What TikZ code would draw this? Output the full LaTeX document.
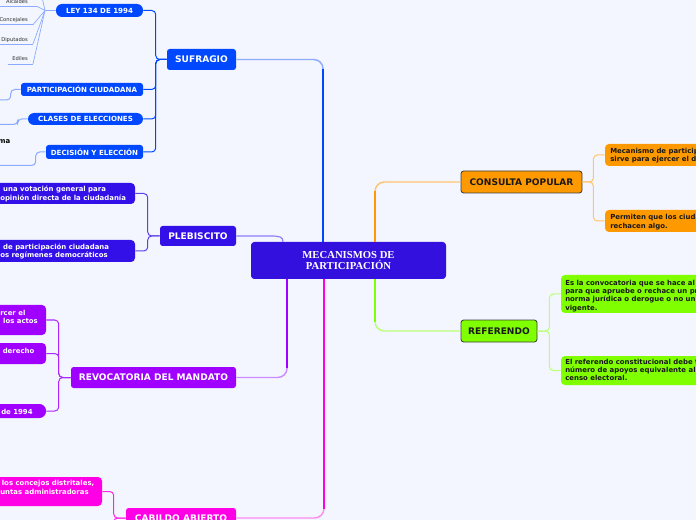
\documentclass[tikz,border=0pt]{standalone}
\usepackage{fontspec}
\setmainfont{DejaVu Sans}
\newfontfamily\ctrfont{Liberation Serif}
\usetikzlibrary{positioning}

\definecolor{bgcol}{RGB}{243,246,254}
\definecolor{ctrcol}{RGB}{51,16,221}
\definecolor{sufcol}{RGB}{0,72,255}
\definecolor{suflite}{RGB}{140,170,255}
\definecolor{plbcol}{RGB}{52,16,232}
\definecolor{plblite}{RGB}{140,125,255}
\definecolor{conscol}{RGB}{255,153,0}
\definecolor{conslite}{RGB}{255,196,110}
\definecolor{refcol}{RGB}{128,255,0}
\definecolor{reflite}{RGB}{185,255,120}
\definecolor{revcol}{RGB}{160,0,255}
\definecolor{revlite}{RGB}{205,140,255}
\definecolor{cabcol}{RGB}{255,0,230}
\definecolor{cablite}{RGB}{255,140,240}
\definecolor{inkcol}{RGB}{25,25,25}
\definecolor{leafgray}{RGB}{45,45,45}

\begin{document}
\begin{tikzpicture}[
    x=0.75pt, y=-0.75pt,
    sz/.style 2 args={minimum width=#1*0.75pt, minimum height=#2*0.75pt},
    ctrbox/.style={rectangle, rounded corners=2.5pt, fill=ctrcol, text=white, inner sep=0pt, align=center, font=\ctrfont\bfseries\fontsize{8}{7.8}\selectfont},
    mainbox/.style={rectangle, rounded corners=2pt, inner sep=0pt, text=white, font=\bfseries\fontsize{6.8}{8}\selectfont},
    darkbox/.style={draw=inkcol!85, line width=0.6pt, text=inkcol},
    subbox/.style={rectangle, rounded corners=2pt, inner sep=0pt, text=white, font=\bfseries\fontsize{5.3}{6.5}\selectfont},
    pill/.style={rounded corners=4.6pt},
    leafbox/.style={rectangle, rounded corners=3pt, inner sep=0pt},
    leaftext/.style={inner sep=0pt, align=left, font=\bfseries\fontsize{5.2}{6.25}\selectfont},
    tinytext/.style={inner sep=0pt, text=leafgray, font=\fontsize{3.9}{4.5}\selectfont},
    trunk/.style={line width=1.1pt, rounded corners=7pt},
    trunkdark/.style={line width=1.7pt, shorten >=7pt},
    twig/.style={line width=0.75pt, rounded corners=3pt},
    leafline/.style={line width=0.5pt, suflite}
]
  \useasboundingbox (0,0) rectangle (696,520);
  \fill[bgcol] (0,0) rectangle (696,520);
  \clip (0,0) rectangle (696,520);

  % central node
  \node (cm) [ctrbox, sz={195}{37}] at (348.5,260.5) {MECANISMOS DE\\PARTICIPACIÓN};

  % main branches
  \node (suf) [mainbox, fill=sufcol, sz={69}{21}] at (201.5,59.5) {SUFRAGIO};
  \node (plb) [mainbox, fill=plbcol, sz={76}{20}] at (198,236) {PLEBISCITO};
  \node (rev) [mainbox, fill=revcol, sz={165}{21}] at (153.5,377.5) {REVOCATORIA DEL MANDATO};
  \node (cab) [mainbox, fill=cabcol, sz={110}{20}] at (181,518) {CABILDO ABIERTO};
  \node (cons) [mainbox, darkbox, fill=conscol, sz={121}{22}] at (521.5,182) {CONSULTA POPULAR};
  \node (ref) [mainbox, darkbox, fill=refcol, sz={76}{22}] at (499,331) {REFERENDO};

  % sufragio
  \node (ley) [subbox, pill, fill=sufcol, sz={87}{13}] at (99.5,10.5) {LEY 134 DE 1994};
  \node (pc) [subbox, fill=sufcol, sz={122}{13}] at (82,89.5) {PARTICIPACIÓN CIUDADANA};
  \node (cle) [subbox, pill, fill=sufcol, sz={115}{12}] at (85.5,119) {CLASES DE ELECCIONES};
  \node (dye) [subbox, fill=sufcol, sz={97}{14}] at (94.5,152) {DECISIÓN Y ELECCIÓN};

  \node (alc) [tinytext, anchor=east] at (28,2) {Alcaldes};
  \node (con) [tinytext, anchor=east] at (28,20.5) {Concejales};
  \node (dip) [tinytext, anchor=east] at (28,40) {Diputados};
  \node (edi) [tinytext, anchor=east] at (28,59) {Ediles};
  \node (mafrag) [leaftext, text=black, anchor=east] at (10.5,142) {ma};

  % plebiscito
  \node (pb1) [leafbox, fill=plbcol, sz={145}{21}] at (62.5,193.5) {};
  \node (pb1t) [leaftext, text=white, anchor=west] at (0,194) {\hspace*{2.2pt}una votación general para\\opinión directa de la ciudadanía};
  \node (pb2) [leafbox, fill=plbcol, sz={145}{22}] at (62.5,251) {};
  \node (pb2t) [leaftext, text=white, anchor=west] at (0,251.3) {\hspace*{2.2pt}de participación ciudadana\\os regímenes democráticos};

  % revocatoria
  \node (rv1) [leafbox, fill=revcol, sz={56}{30}] at (18,320) {};
  \node (rv1t) [leaftext, text=white, anchor=west] at (0,316.7) {rcer el\\\hspace*{2.2pt}los actos};
  \node (rv2) [leafbox, fill=revcol, sz={56}{21}] at (18,353.5) {};
  \node (rv2t) [leaftext, text=white, anchor=west] at (2.5,350.7) {derecho};
  \node (rv3) [leafbox, rounded corners=5pt, fill=revcol, sz={56}{14}] at (18,411) {};
  \node (rv3t) [leaftext, text=white, anchor=west] at (1,411.5) {de 1994};

  % cabildo
  \node (cb1) [leafbox, fill=cabcol, sz={112}{29}] at (46,491.5) {};
  \node (cb1t) [leaftext, text=white, anchor=west] at (0,487.5) {\hspace*{1.2pt}los concejos distritales,\\untas administradoras};

  % consulta popular
  \node (cs1) [leafbox, fill=conscol, sz={105}{22}] at (657.5,155) {};
  \node (cs1t) [leaftext, text=inkcol, anchor=west] at (610,155.5) {Mecanismo de particip\\sirve para ejercer el d};
  \node (cs2) [leafbox, fill=conscol, sz={105}{22}] at (657.5,221) {};
  \node (cs2t) [leaftext, text=inkcol, anchor=west] at (610,222) {Permiten que los ciuda\\rechacen algo.};

  % referendo
  \node (rf1) [leafbox, fill=refcol, sz={149}{38}] at (635.5,294) {};
  \node (rf1t) [leaftext, text=inkcol, anchor=west] at (565,295.8) {Es la convocatoria que se hace al\\para que apruebe o rechace un pr\\norma jurídica o derogue o no un\\vigente.};
  \node (rf2) [leafbox, fill=refcol, sz={149}{29}] at (635.5,370.5) {};
  \node (rf2t) [leaftext, text=inkcol, anchor=west] at (565,370) {El referendo constitucional debe t\\número de apoyos equivalente al\\censo electoral.};

  % trunk ends on the central node
  \coordinate (sufT) at ([xshift=-19.1pt]cm.north);
  \coordinate (consT) at ([xshift=19.9pt]cm.north);
  \coordinate (plbT) at ([xshift=-49.1pt]cm.north);
  \coordinate (refT) at ([xshift=19.9pt]cm.south);
  \coordinate (revT) at ([xshift=-46.1pt]cm.south);
  \coordinate (cabT) at ([xshift=-18.4pt]cm.south);

  \draw[trunk, suflite] (sufT) |- (suf.east);
  \draw[trunkdark, sufcol] (sufT) -- (sufT |- suf.east);
  \draw[trunk, conslite] (consT) |- (cons.west);
  \draw[trunkdark, conscol] (consT) -- (consT |- cons.west);
  \draw[trunk, reflite] (refT) |- (ref.west);
  \draw[trunkdark, refcol] (refT) -- (refT |- ref.west);
  \draw[trunk, revlite] (revT) |- (rev.east);
  \draw[trunkdark, revcol] (revT) -- (revT |- rev.east);
  \draw[trunk, cablite] (cabT) |- (cab.east);
  \draw[trunkdark, cabcol] (cabT) -- (cabT |- cab.east);
  \draw[line width=0.9pt, plblite] (plb.east) -- ++(34,0) .. controls +(9,0) and +(0,-5) .. (plbT);

  % branches
  \foreach \kid in {ley,pc,cle,dye}
    \draw[twig, sufcol] (suf.west) -- ++(-11,0) |- (\kid.east);
  \foreach \kid in {pb1,pb2}
    \draw[twig, plbcol!80] (plb.west) -- ++(-12,0) |- (\kid.east);
  \foreach \kid in {rv1,rv2,rv3}
    \draw[twig, revcol!85] (rev.west) -- ++(-12,0) |- (\kid.east);
  \draw[twig, cabcol!85] (cab.west) -- ++(-12,0) |- (cb1.east);
  \draw[twig, cabcol!85] (cab.west) -- ++(-12,0) -- ++(0,20);
  \foreach \kid in {cs1,cs2}
    \draw[twig, conslite] (cons.east) -- ++(11,0) |- (\kid.west);
  \foreach \kid in {rf1,rf2}
    \draw[twig, reflite] (ref.east) -- ++(12,0) |- (\kid.west);

  % lines leaving the picture on the left
  \coordinate (pcOff) at (-3,100);
  \coordinate (cleOff) at (-3,124.5);
  \coordinate (dyeOff) at (-3,165.5);
  \draw[twig, suflite] (pc.west) -- ++(-10,0) |- (pcOff);
  \draw[twig, suflite] (cle.west) -- ++(-10,0) |- (cleOff);
  \draw[twig, suflite] (dye.west) -- ++(-10,0) |- (dyeOff);

  % ley 134 leaves
  \coordinate (hub) at (45,10.5);
  \coordinate (alcL) at (0,6.5);  \coordinate (alcR) at (37,6.5);
  \coordinate (conL) at (0,24.7); \coordinate (conR) at (33,24.7);
  \coordinate (dipL) at (0,44);   \coordinate (dipR) at (33,44);
  \coordinate (ediL) at (8,64);   \coordinate (ediR) at (33,64);
  \coordinate (topOff) at (42,-3);
  \draw[leafline] (ley.west) -- (hub);
  \foreach \leaf in {alc,con,dip,edi} {
    \draw[leafline] (\leaf L) -- (\leaf R);
    \draw[leafline] (hub) -- (\leaf R);
  }
  \draw[leafline] (hub) -- (topOff);
\end{tikzpicture}
\end{document}
